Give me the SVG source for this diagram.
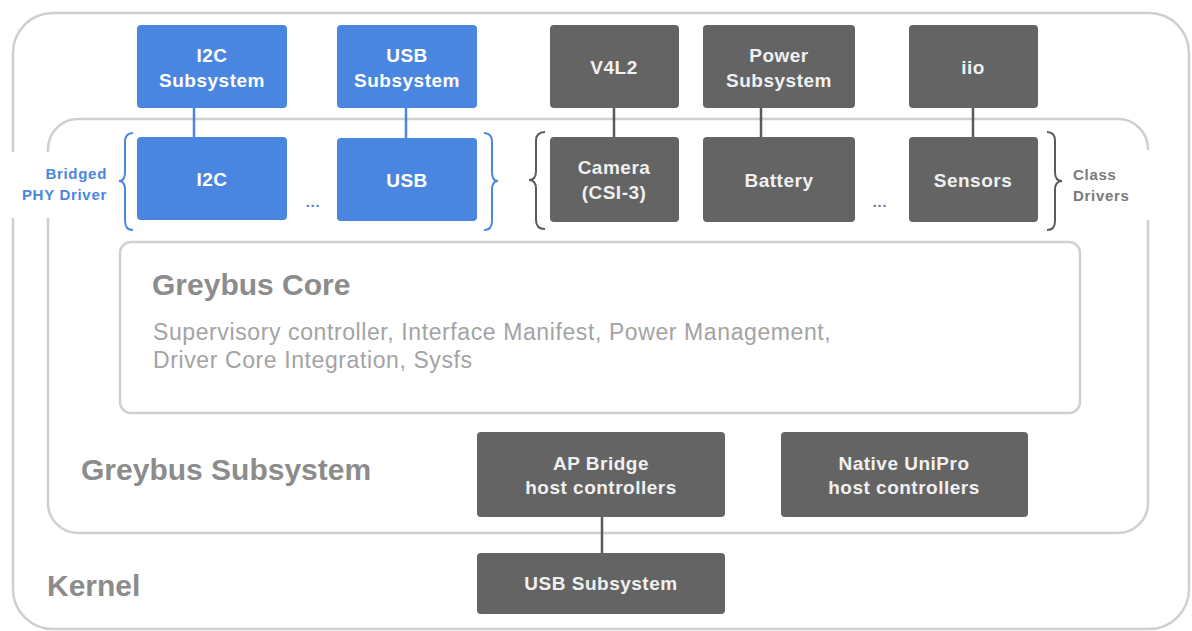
<svg xmlns="http://www.w3.org/2000/svg" width="1192" height="631" viewBox="0 0 1192 631">
  <defs>
    <style>
      .frame { fill: none; stroke: #cfcfcf; stroke-width: 2.5; }
      .blue { fill: #4a86e0; }
      .dark { fill: #646464; }
      .bt { font-family: "Liberation Sans", Arial, sans-serif; font-weight: bold; font-size: 19px; fill: #ffffff; text-anchor: middle; letter-spacing: 0.5px; }
      .dt { font-family: "Liberation Sans", Arial, sans-serif; font-weight: bold; font-size: 19px; fill: #f0f0f0; text-anchor: middle; letter-spacing: 0.5px; }
      .big { font-family: "Liberation Sans", Arial, sans-serif; font-weight: bold; font-size: 30px; fill: #8c8c8c; }
      .desc { font-family: "Liberation Sans", Arial, sans-serif; font-size: 23px; fill: #a3a3a3; letter-spacing: 0.6px; }
      .side { font-family: "Liberation Sans", Arial, sans-serif; font-weight: bold; font-size: 15px; letter-spacing: 0.7px; }
      .cb { stroke: #4a86e0; stroke-width: 2.5; fill: none; }
      .cd { stroke: #5a5a5a; stroke-width: 2.5; fill: none; }
      .brb { stroke: #4a86e0; stroke-width: 2; fill: none; }
      .brd { stroke: #5a5a5a; stroke-width: 2; fill: none; }
    </style>
  </defs>
  <rect x="0" y="0" width="1192" height="631" fill="#ffffff"/>

  <!-- Containers -->
  <g id="kernel">
    <rect class="frame" x="13" y="13" width="1176" height="616" rx="40" ry="40"/>
  </g>
  <g id="greybus-subsystem">
    <rect class="frame" x="48" y="119" width="1100" height="414" rx="30" ry="30"/>
  </g>
  <!-- label gaps in frames -->
  <rect x="0" y="152" width="62" height="66" fill="#ffffff"/>
  <rect x="1140" y="150" width="16" height="70" fill="#ffffff"/>

  <text class="big" x="47" y="596">Kernel</text>
  <text class="big" x="81" y="480">Greybus Subsystem</text>

  <g id="greybus-core">
    <rect class="frame" x="120" y="242" width="960" height="171" rx="11" ry="11"/>
    <text class="big" x="152" y="295">Greybus Core</text>
    <text class="desc" x="153" y="340">Supervisory controller, Interface Manifest, Power Management,</text>
    <text class="desc" x="153" y="368">Driver Core Integration, Sysfs</text>
  </g>

  <!-- Connectors -->
  <g id="connectors">
    <line class="cb" x1="194" y1="108" x2="194" y2="137"/>
    <line class="cb" x1="406" y1="108" x2="406" y2="138"/>
    <line class="cd" x1="614" y1="108" x2="614" y2="137"/>
    <line class="cd" x1="761" y1="108" x2="761" y2="137"/>
    <line class="cd" x1="973" y1="108" x2="973" y2="137"/>
    <line class="cd" x1="602" y1="516" x2="602" y2="553"/>
  </g>

  <!-- Braces -->
  <g id="braces">
    <path class="brb" d="M133 133 Q125 133 125 142 L125 172 Q125 181 119 181 Q125 181 125 190 L125 221 Q125 230 133 230"/>
    <path class="brb" d="M484 133 Q492 133 492 142 L492 172 Q492 181 498 181 Q492 181 492 190 L492 221 Q492 230 484 230"/>
    <path class="brd" d="M545 132 Q536 132 536 141 L536 171 Q536 180 529 180 Q536 180 536 189 L536 220 Q536 229 545 229"/>
    <path class="brd" d="M1047 132 Q1055 132 1055 141 L1055 172 Q1055 181 1062 181 Q1055 181 1055 190 L1055 221 Q1055 230 1047 230"/>
  </g>

  <text class="side" x="107" y="179" text-anchor="end" fill="#4a86e0">Bridged</text>
  <text class="side" x="107" y="200" text-anchor="end" fill="#4a86e0">PHY Driver</text>
  <text class="side" x="1073" y="180" fill="#7a7a7a">Class</text>
  <text class="side" x="1073" y="201" fill="#7a7a7a">Drivers</text>
  <text class="side" x="313" y="207" text-anchor="middle" fill="#4a86e0">...</text>
  <text class="side" x="880" y="207" text-anchor="middle" fill="#7a7a7a">...</text>

  <!-- Blue nodes -->
  <g id="i2c-subsystem">
    <rect class="blue" x="137" y="25" width="150" height="83" rx="4"/>
    <text class="bt" x="212" y="62">I2C</text>
    <text class="bt" x="212" y="87">Subsystem</text>
  </g>
  <g id="usb-subsystem-top">
    <rect class="blue" x="337" y="25" width="140" height="83" rx="4"/>
    <text class="bt" x="407" y="62">USB</text>
    <text class="bt" x="407" y="87">Subsystem</text>
  </g>
  <g id="i2c">
    <rect class="blue" x="137" y="137" width="150" height="83" rx="4"/>
    <text class="bt" x="212" y="186">I2C</text>
  </g>
  <g id="usb">
    <rect class="blue" x="337" y="138" width="140" height="83" rx="4"/>
    <text class="bt" x="407" y="187">USB</text>
  </g>

  <!-- Dark nodes -->
  <g id="v4l2">
    <rect class="dark" x="550" y="25" width="129" height="83" rx="4"/>
    <text class="dt" x="614" y="74">V4L2</text>
  </g>
  <g id="power-subsystem">
    <rect class="dark" x="703" y="25" width="152" height="83" rx="4"/>
    <text class="dt" x="779" y="62">Power</text>
    <text class="dt" x="779" y="87">Subsystem</text>
  </g>
  <g id="iio">
    <rect class="dark" x="909" y="25" width="129" height="83" rx="4"/>
    <text class="dt" x="973" y="74">iio</text>
  </g>
  <g id="camera">
    <rect class="dark" x="550" y="137" width="129" height="85" rx="4"/>
    <text class="dt" x="614" y="174">Camera</text>
    <text class="dt" x="614" y="199">(CSI-3)</text>
  </g>
  <g id="battery">
    <rect class="dark" x="703" y="137" width="152" height="85" rx="4"/>
    <text class="dt" x="779" y="187">Battery</text>
  </g>
  <g id="sensors">
    <rect class="dark" x="909" y="137" width="129" height="85" rx="4"/>
    <text class="dt" x="973" y="187">Sensors</text>
  </g>
  <g id="ap-bridge">
    <rect class="dark" x="477" y="432" width="248" height="85" rx="4"/>
    <text class="dt" x="601" y="470">AP Bridge</text>
    <text class="dt" x="601" y="494">host controllers</text>
  </g>
  <g id="native-unipro">
    <rect class="dark" x="781" y="432" width="247" height="85" rx="4"/>
    <text class="dt" x="904" y="470">Native UniPro</text>
    <text class="dt" x="904" y="494">host controllers</text>
  </g>
  <g id="usb-subsystem">
    <rect class="dark" x="477" y="553" width="248" height="61" rx="4"/>
    <text class="dt" x="601" y="590">USB Subsystem</text>
  </g>
</svg>
